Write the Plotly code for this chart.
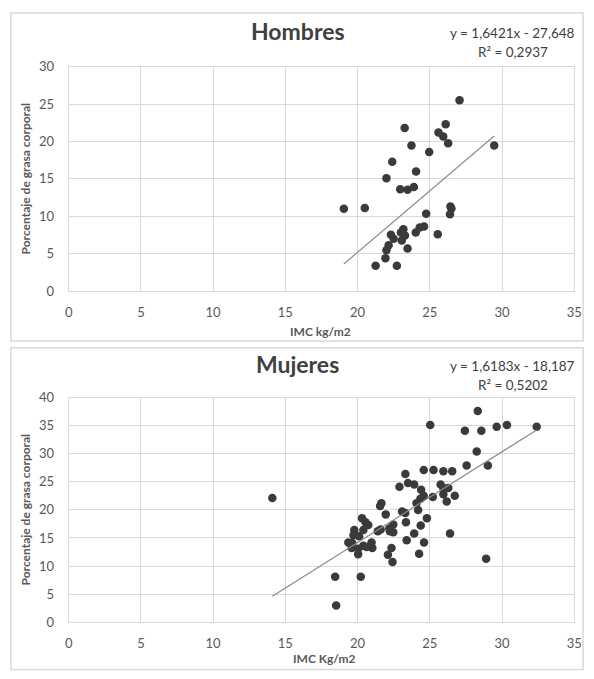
import plotly.graph_objects as go

# ---------------- data ----------------
hombres_imc = [19.05, 20.5, 23.26, 26.1, 25.6, 25.93, 26.27, 29.46, 23.73, 24.96,
               22.4, 24.05, 22.0, 22.95, 23.46, 23.9, 26.43, 26.5, 26.4, 24.75,
               27.06, 25.55, 24.03, 24.3, 24.6, 23.17, 23.0, 23.28, 22.31, 22.5,
               23.06, 22.15, 22.0, 21.93, 23.46, 21.25, 22.72]
hombres_grasa = [11.0, 11.1, 21.8, 22.3, 21.2, 20.66, 19.75, 19.45, 19.45, 18.6,
                 17.3, 16.0, 15.1, 13.6, 13.55, 13.9, 11.3, 11.05, 10.27, 10.35,
                 25.5, 7.6, 7.85, 8.5, 8.63, 8.28, 7.85, 7.42, 7.55, 6.99,
                 6.78, 6.13, 5.48, 4.4, 5.7, 3.41, 3.41]

mujeres_imc = [14.1, 18.45, 20.22, 18.52, 28.9, 26.4, 32.4, 27.43, 28.57, 29.63,
               30.34, 25.03, 28.32, 28.25, 27.55, 29.02, 23.31, 24.58, 25.26, 25.94,
               26.55, 23.49, 23.92, 22.9, 24.4, 24.58, 24.35, 24.08, 25.21, 25.75,
               25.94, 26.28, 25.94, 26.17, 26.73, 24.8, 24.19, 23.08, 23.3, 23.35,
               24.37, 23.92, 23.4, 24.6, 24.26, 21.65, 21.56, 21.95, 22.47, 22.24,
               22.47, 21.4, 21.6, 22.35, 22.1, 22.42, 20.31, 20.55, 20.74, 20.4,
               19.77, 20.11, 19.72, 19.36, 19.63, 19.59, 20.04, 20.04, 20.4, 20.97,
               21.02, 20.63, 22.2]
mujeres_grasa = [22.1, 8.1, 8.1, 2.96, 11.3, 15.8, 34.8, 34.1, 34.1, 34.8,
                 35.1, 35.1, 37.6, 30.4, 27.9, 27.9, 26.4, 27.1, 27.1, 26.9,
                 26.9, 24.8, 24.5, 24.1, 23.6, 22.5, 22.0, 21.2, 22.3, 24.5,
                 23.9, 23.9, 22.8, 21.5, 22.5, 18.5, 20.0, 19.7, 19.45, 17.8,
                 17.2, 15.8, 14.6, 14.2, 12.2, 21.2, 20.7, 19.2, 17.4, 16.2,
                 16.0, 16.2, 16.5, 13.2, 12.0, 10.7, 18.5, 17.8, 17.3, 16.4,
                 16.4, 15.3, 15.5, 14.2, 14.1, 13.2, 13.1, 12.1, 13.6, 14.2,
                 13.2, 13.4, 16.7]

# trend line coefficients (as printed on the chart)
hombres_slope, hombres_intercept = 1.6421, -27.648
mujeres_slope, mujeres_intercept = 1.6183, -18.187
hombres_eq = ["y = 1,6421x - 27,648", "R² = 0,2937"]
mujeres_eq = ["y = 1,6183x - 18,187", "R² = 0,5202"]

x_ticks = [0, 5, 10, 15, 20, 25, 30, 35]
y_ticks_h = [0, 5, 10, 15, 20, 25, 30]
y_ticks_m = [0, 5, 10, 15, 20, 25, 30, 35, 40]

# ---------------- layout helpers ----------------
W, H = 594, 679

def px(x):
    return x / W
def py(y):
    return 1 - y / H

FONT = "Lato"
GRID = "#d9d9d9"
TXT = "#595959"
DARK = "#404040"
MARK = "#3a3a3a"
TREND = "#8c8c8c"

fig = go.Figure()

def add_panel(xs, ys, slope, intercept, xa, ya):
    fig.add_trace(go.Scatter(x=xs, y=ys, mode="markers", xaxis=xa, yaxis=ya,
                             marker=dict(size=8.5, color=MARK), showlegend=False,
                             hoverinfo="x+y"))
    x0, x1 = min(xs), max(xs)
    fig.add_trace(go.Scatter(x=[x0, x1], y=[slope * x0 + intercept, slope * x1 + intercept],
                             mode="lines", xaxis=xa, yaxis=ya,
                             line=dict(color=TREND, width=1.2), showlegend=False,
                             hoverinfo="skip"))

add_panel(hombres_imc, hombres_grasa, hombres_slope, hombres_intercept, "x", "y")
add_panel(mujeres_imc, mujeres_grasa, mujeres_slope, mujeres_intercept, "x2", "y2")

axis_common = dict(showgrid=True, gridcolor=GRID, gridwidth=1, zeroline=False,
                   showline=True, linecolor=GRID, linewidth=1, mirror=True,
                   tickfont=dict(family=FONT, size=13, color=TXT),
                   ticks="", fixedrange=True, ticklabeloverflow="allow")

fig.update_layout(
    width=W, height=H,
    margin=dict(l=0, r=0, t=0, b=0),
    paper_bgcolor="white", plot_bgcolor="white",
    xaxis=dict(domain=[px(66), px(582)], range=[0, 35], tickvals=x_ticks,
               anchor="y", ticklabelstandoff=9, **axis_common),
    yaxis=dict(domain=[py(290), py(60)], range=[0, 30], tickvals=y_ticks_h,
               anchor="x", ticklabelstandoff=11, **axis_common),
    xaxis2=dict(domain=[px(66), px(582)], range=[0, 35], tickvals=x_ticks,
                anchor="y2", ticklabelstandoff=9, **axis_common),
    yaxis2=dict(domain=[py(629), py(399)], range=[0, 40], tickvals=y_ticks_m,
                anchor="x2", ticklabelstandoff=11, **axis_common),
)

# panel borders
for (t, b) in [(5, 341), (348, 677.5)]:
    fig.add_shape(type="rect", xref="paper", yref="paper",
                  x0=px(7), x1=px(591), y0=py(b), y1=py(t),
                  line=dict(color=GRID, width=1.5), fillcolor="rgba(0,0,0,0)", layer="below")

def ann(text, x, y, size, color, bold=False, angle=0):
    fig.add_annotation(text=("<b>%s</b>" % text) if bold else text,
                       x=px(x), y=py(y), xref="paper", yref="paper",
                       xanchor="center", yanchor="middle", showarrow=False,
                       textangle=angle,
                       font=dict(family=FONT, size=size, color=color))

# titles
ann("Hombres", 300, 24, 23, DARK, bold=True)
ann("Mujeres", 300, 365, 23, DARK, bold=True)
# equations
ann(hombres_eq[0], 519, 26, 13.5, DARK)
ann(hombres_eq[1], 519, 45, 13.5, DARK)
ann(mujeres_eq[0], 519, 367, 13.5, DARK)
ann(mujeres_eq[1], 519, 386, 13.5, DARK)
# axis titles
ann("IMC kg/m2", 323, 331, 12, TXT, bold=True)
ann("IMC Kg/m2", 327, 666, 12, TXT, bold=True)
ann("Porcentaje de grasa corporal", 22, 175, 12, TXT, bold=True, angle=-90)
ann("Porcentaje de grasa corporal", 22, 514, 12, TXT, bold=True, angle=-90)

fig.write_html("out.html", config={"displayModeBar": False},
               post_script="document.body.style.margin='0';")
